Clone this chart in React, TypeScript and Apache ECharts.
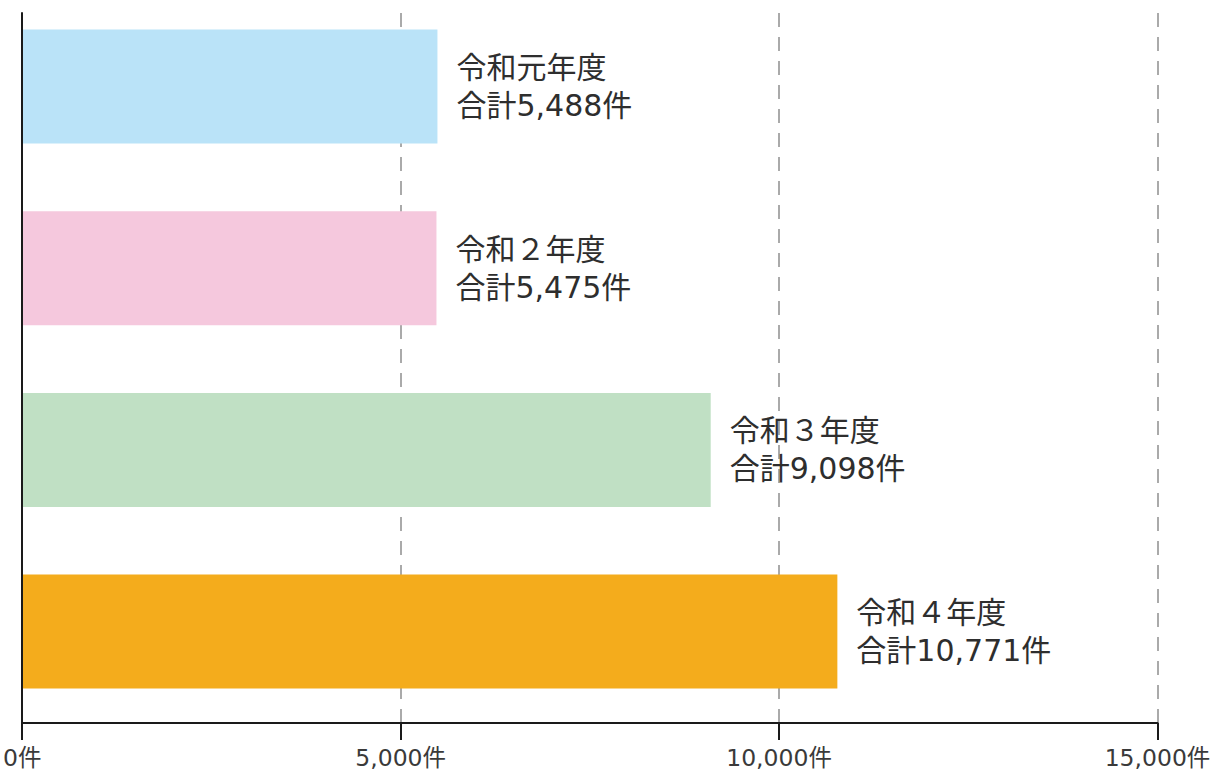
import React, { useEffect, useRef } from "react";
import * as echarts from "echarts";

const categories = ["令和元年度", "令和２年度", "令和３年度", "令和４年度"];
const totals = [5488, 5475, 9098, 10771];
const barColors = ["#BAE3F8", "#F5C8DD", "#C0E0C4", "#F4AC1C"];
const xTicks = [0, 5000, 10000, 15000];

const FONT = "'DejaVu Sans', 'Noto Sans CJK JP', sans-serif";
const SHIFT = 20; // container is lifted by this many pixels

export default function App() {
  const ref = useRef<HTMLDivElement>(null);
  useEffect(() => {
    if (!ref.current) return;
    const chart = echarts.init(ref.current, undefined, { renderer: "svg" });
    const left = 22;
    const right = 1214 - 1157.5;
    chart.setOption({
      animation: false,
      textStyle: { fontFamily: FONT },
      grid: [
        { left, right, top: 13 + SHIFT, bottom: 51 },
        { left, right, top: SHIFT - 4.3, height: 726.7 },
      ],
      xAxis: [
        {
          gridIndex: 0,
          type: "value",
          min: xTicks[0],
          max: xTicks[xTicks.length - 1],
          interval: 5000,
          axisLine: { show: true, lineStyle: { color: "#1a1a1a", width: 2 } },
          axisTick: { show: true, length: 17, lineStyle: { color: "#1a1a1a", width: 2 } },
          axisLabel: {
            margin: 23,
            fontSize: 23.5,
            color: "#3a3a3a",
            fontFamily: FONT,
            formatter: (v: number) => `${v.toLocaleString("en-US")}件`,
          },
          splitLine: {
            show: true,
            lineStyle: { color: "#aaaaaa", width: 2, type: [14, 10] },
          },
        },
        {
          gridIndex: 1,
          type: "value",
          min: xTicks[0],
          max: xTicks[xTicks.length - 1],
          show: false,
          splitLine: { show: false },
        },
      ],
      yAxis: [
        {
          gridIndex: 0,
          type: "category",
          data: categories,
          inverse: true,
          z: 10,
          axisLine: { show: true, lineStyle: { color: "#1a1a1a", width: 2 } },
          axisTick: { show: false },
          axisLabel: { show: false },
        },
        {
          gridIndex: 1,
          type: "category",
          data: categories,
          inverse: true,
          show: false,
        },
      ],
      series: [
        {
          type: "bar",
          xAxisIndex: 1,
          yAxisIndex: 1,
          barWidth: 114,
          data: totals.map((v, i) => ({ value: v, itemStyle: { color: barColors[i] } })),
          label: {
            show: true,
            position: "right",
            distance: 19,
            fontSize: 30,
            lineHeight: 38,
            color: "#2e2e2e",
            fontFamily: FONT,
            formatter: (p: any) => `${p.name}\n合計${Number(p.value).toLocaleString("en-US")}件`,
          },
        },
      ],
    });
    return () => chart.dispose();
  }, []);
  return (
    <div
      ref={ref}
      style={{
        position: "fixed",
        left: 0,
        top: -SHIFT,
        width: 1214,
        height: 774 + SHIFT,
        background: "#fff",
      }}
    />
  );
}
